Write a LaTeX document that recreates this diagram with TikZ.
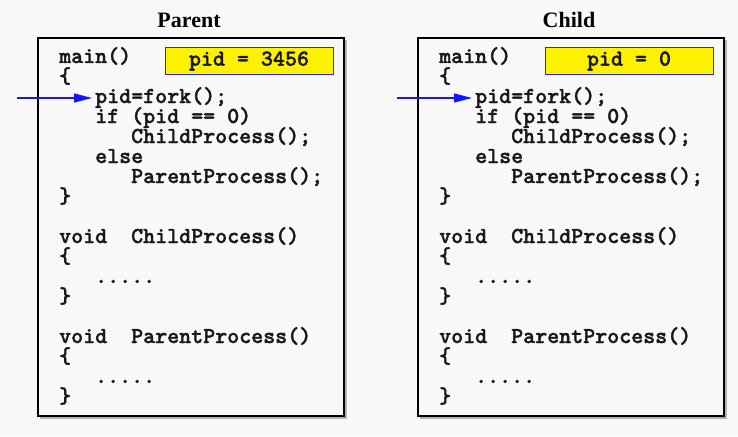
\documentclass[tikz,border=0pt]{standalone}
\usepackage{fontspec}
\setmainfont{Liberation Serif}
\newfontfamily\codefont{lmmonolt10-bold}[Extension=.otf, FakeBold=1.6]
\usepackage{tikz}
\usetikzlibrary{arrows.meta, positioning}

\definecolor{bggray}{RGB}{248,248,248}
\definecolor{pidblue}{RGB}{40,40,240}
\definecolor{ptrblue}{RGB}{20,20,255}
\definecolor{codeink}{RGB}{25,25,25}

\begin{document}
\begin{tikzpicture}[x=1pt, y=-1pt,
  code/.style={anchor=base west, inner sep=0pt, text height=14pt, text depth=4pt, text=codeink, font=\codefont\fontsize{22.86}{26}\selectfont},
  title/.style={anchor=base, inner sep=0pt, font=\bfseries\fontsize{22}{26}\selectfont},
  panel/.style={draw=black, line width=2pt, fill=bggray},
  pidbox/.style={draw=pidblue, fill=yellow, line width=1pt, minimum width=168pt, minimum height=26pt, inner sep=0pt, text=codeink, font=\codefont\fontsize{22.86}{26}\selectfont},
  ptr/.style={-{Triangle[length=18pt, width=9pt]}, ptrblue, line width=1.3pt, shorten >=3pt}]

\newcommand{\rowh}{20}
\newcommand{\firstrow}{63}
\newcommand{\colA}{59}
\newcommand{\colB}{95}
\newcommand{\colC}{131}

\fill[bggray] (0,0) rectangle (738,436);

\foreach \pn/\ttl/\pid/\off in {par/Parent/3456/0, chi/Child/0/380}
{
\begin{scope}[xshift=\off pt]
\node[title] (\pn-title) at (189,28) {\ttl};
% slight shadow under the box
\draw[gray!60, line width=2pt] (40,418) -- (346,418) -- (346,40);
\draw[panel] (38,38) rectangle (344,416);
\node[pidbox] (\pn-pid) at (249,61) {pid = \pid};

% main()
\node[code] (\pn-main) at (\colA,\firstrow+0*\rowh) {main()};
\node[code] (\pn-ob1)  at (\colA,\firstrow+1*\rowh) {\{};
\node[code] (\pn-fork) at (\colB,\firstrow+2*\rowh) {pid=fork();};
\node[code] (\pn-if)   at (\colB,\firstrow+3*\rowh) {if (pid == 0)};
\node[code] (\pn-cp)   at (\colC,\firstrow+4*\rowh) {ChildProcess();};
\node[code] (\pn-else) at (\colB,\firstrow+5*\rowh) {else};
\node[code] (\pn-pp)   at (\colC,\firstrow+6*\rowh) {ParentProcess();};
\node[code] (\pn-cb1)  at (\colA,\firstrow+7*\rowh) {\}};

% ChildProcess()
\node[code] (\pn-vc)   at (\colA,\firstrow+9*\rowh) {void~~ChildProcess()};
\node[code] (\pn-ob2)  at (\colA,\firstrow+10*\rowh) {\{};
\node[code] (\pn-dt1)  at (\colB,\firstrow+11*\rowh) {.....};
\node[code] (\pn-cb2)  at (\colA,\firstrow+12*\rowh) {\}};

% ParentProcess()
\node[code] (\pn-vp)   at (\colA,\firstrow+14*\rowh) {void~~ParentProcess()};
\node[code] (\pn-ob3)  at (\colA,\firstrow+15*\rowh) {\{};
\node[code] (\pn-dt2)  at (\colB,\firstrow+16*\rowh) {.....};
\node[code] (\pn-cb3)  at (\colA,\firstrow+17*\rowh) {\}};

\coordinate[left=78pt of \pn-fork.west] (\pn-start);
\draw[ptr] (\pn-start) -- (\pn-fork.west);
\end{scope}
}

\end{tikzpicture}
\end{document}
